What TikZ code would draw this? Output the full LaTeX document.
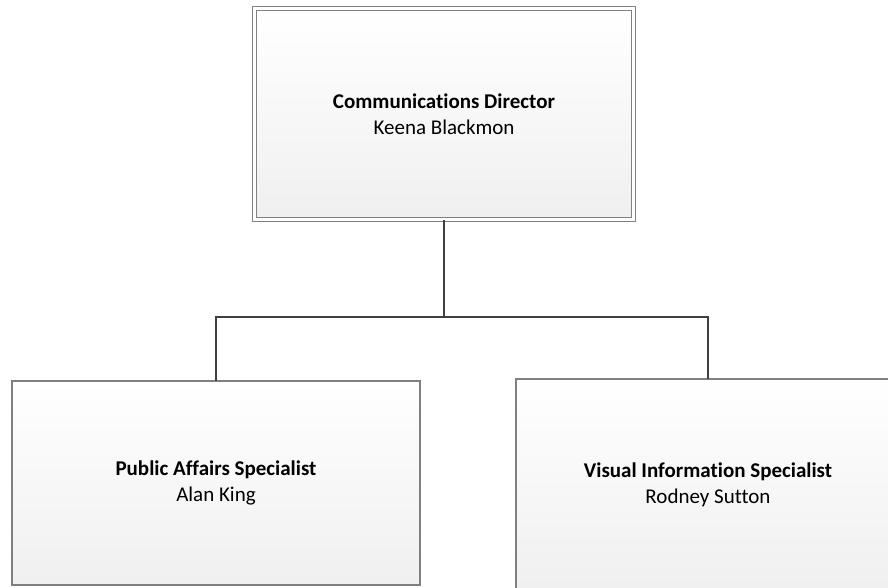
\documentclass[tikz,border=0pt]{standalone}
\usepackage{fontspec}
\setmainfont{Carlito}[RawFeature={-liga}]
\begin{document}
\begin{tikzpicture}[x=1pt,y=-1pt,
  orgbox/.style={rectangle, draw=black!50, line width=1.4pt,
    top color=white, bottom color=black!6, align=center,
    inner sep=0pt, outer sep=0pt,
    font=\fontsize{21}{26}\selectfont},
  headbox/.style={orgbox, double=white, double distance=3pt, line width=1.2pt},
  conn/.style={draw=black!75, line width=2.7pt}]
  \clip (0,0) rectangle (888,587);
  \fill[white] (0,0) rectangle (888,587);
  % director at the top, two specialists below
  \node[headbox, minimum width=379pt, minimum height=211pt] (dir) at (444,114)
    {\textbf{Communications Director}\\Keena Blackmon};
  \node[orgbox, minimum width=408pt, minimum height=204pt] (pas) at (216,483)
    {\raisebox{-2pt}{\textbf{Public Affairs Specialist}}\\\raisebox{-2pt}{Alan King}};
  \node[orgbox, minimum width=384pt, minimum height=212pt] (vis) at (708,485)
    {\textbf{Visual Information Specialist}\\Rodney Sutton};
  % reporting lines
  \coordinate (bus) at (444,317);
  \draw[conn] (dir.south) -- (bus);
  \draw[conn] (pas.north) |- (bus) -| (vis.north);
\end{tikzpicture}
\end{document}
